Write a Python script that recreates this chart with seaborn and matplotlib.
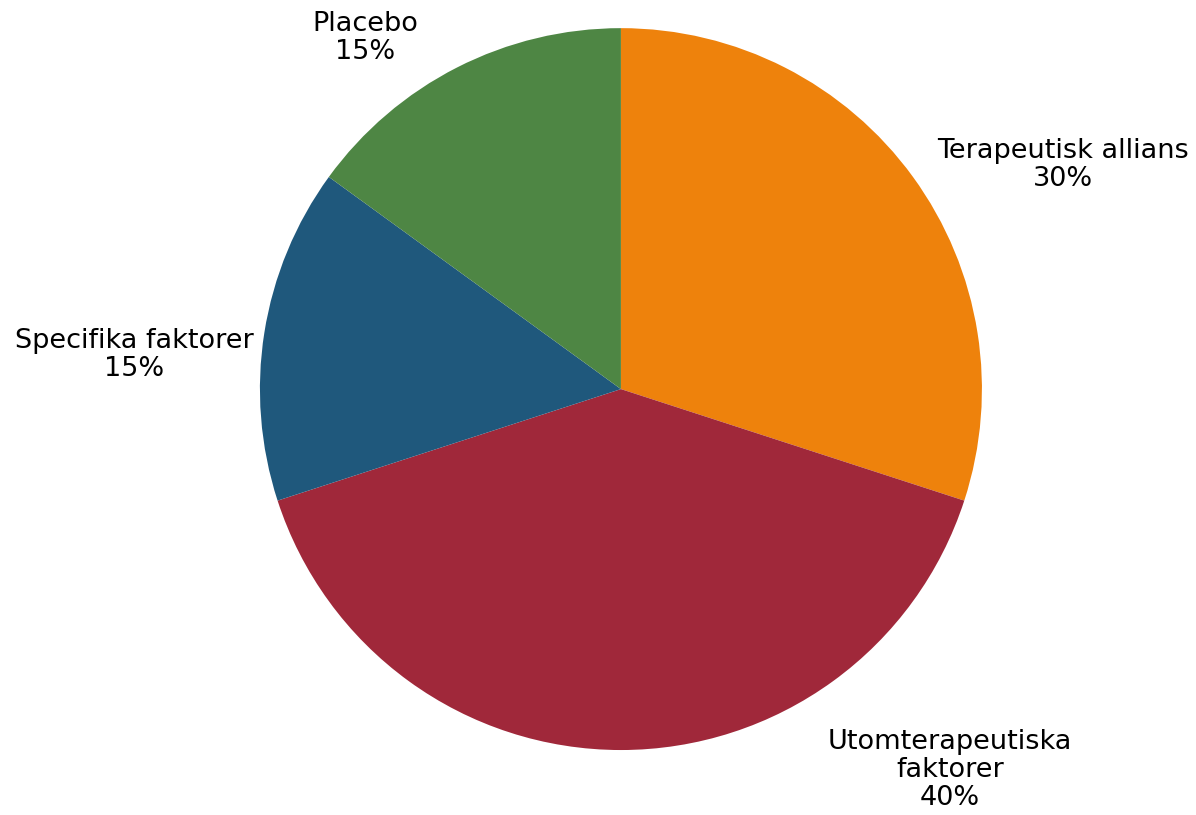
import numpy as np
import matplotlib.pyplot as plt
import seaborn as sns

# %% Data
categories = ['Terapeutisk allians', 'Utomterapeutiska\nfaktorer', 'Specifika faktorer', 'Placebo']
shares = [30, 40, 15, 15]
colors = ['#EE820C', '#A0283A', '#1F587C', '#4E8644']

# label centres in pie-radius units (Excel "best fit" placement)
label_xy = [(1.224, 0.620), (0.911, -1.055), (-1.349, 0.094), (-0.709, 0.972)]

# %% Set-up
sns.set_theme(style='white')
plt.rcParams['font.family'] = ['DejaVu Sans']

fig = plt.figure(figsize=(11.96, 8.15), dpi=100)
ax = fig.add_axes([0, 0, 1, 1])

pal = sns.color_palette(colors)
wedges, _ = ax.pie(shares, colors=pal, startangle=90, counterclock=False,
                   radius=1, wedgeprops=dict(linewidth=0))

#Add labels with percentages
for lab, val, (x, y) in zip(categories, shares, label_xy):
    ax.text(x, y, '{}\n{}%'.format(lab, val), ha='center', va='center',
            fontsize=19.5, color='black', linespacing=1.1)

#Limits so the pie sits where it does in the original
ax.set_xlim(-1.720, 1.593)
ax.set_ylim(-1.180, 1.078)
ax.set_aspect('equal', adjustable='datalim')
ax.axis('off')

fig.patch.set_facecolor('white')
plt.savefig('out.png', dpi=100, facecolor='white')
